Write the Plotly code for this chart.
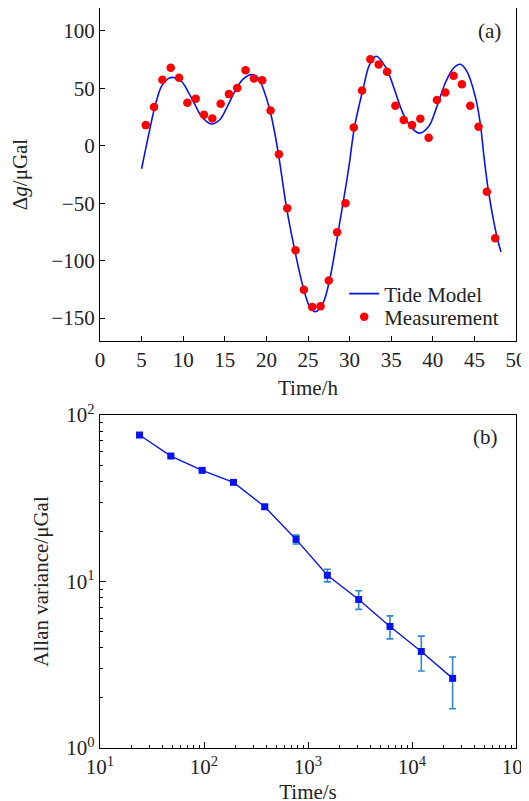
import plotly.graph_objects as go

# ---------- Panel (a): tide model vs measurement ----------
model_t = [5.0, 5.8, 6.6, 7.4, 8.2, 8.8, 9.8, 10.6, 11.4, 12.2, 13.4, 14.4, 15.4, 16.2,
           17.2, 18.2, 19.0, 19.8, 20.6, 21.4, 22.4, 23.4, 24.4, 25.2, 25.9, 26.8, 27.6,
           28.6, 29.6, 30.0, 30.6, 31.6, 32.4, 33.2, 34.4, 35.4, 36.4, 37.5, 38.4, 39.5,
           40.5, 41.5, 42.5, 43.3, 44.1, 45.1, 45.7, 46.15, 46.7, 47.7, 48.2]
model_g = [-20, 8, 34, 52, 58.5, 59.5, 56, 47, 36, 25.5, 19, 22.7, 35.7, 47.3,
           58, 62, 59, 46, 25.5, -5, -53, -90.7, -122.7, -140, -144.5, -137, -116.8,
           -76, -33, -14, 16.8, 48.8, 70.6, 78, 67.7, 48.8, 28.5, 15.4, 11, 16.8,
           34.3, 54.7, 67.7, 71, 64.8, 43, 19.8, -9.3, -40, -79, -92.5]

meas_t = [5.5, 6.5, 7.5, 8.5, 9.5, 10.5, 11.5, 12.5, 13.5, 14.5, 15.5, 16.5, 17.5, 18.5,
          19.5, 20.5, 21.5, 22.5, 23.5, 24.5, 25.5, 26.5, 27.5, 28.5, 29.5, 30.5, 31.5,
          32.5, 33.5, 34.5, 35.5, 36.5, 37.5, 38.5, 39.5, 40.5, 41.5, 42.5, 43.5, 44.5,
          45.5, 46.5, 47.5]
meas_g = [18, 33.7, 57.5, 68, 59.3, 37.5, 41, 27, 23.8, 36.6, 45, 50.3, 65.7, 58.7,
          57, 30.8, -7.3, -54.3, -91, -125.3, -140.4, -139.8, -117.4, -75.3, -50, 16,
          48.2, 75.3, 70.9, 64.5, 34.9, 22.4, 18, 23.5, 7, 39.8, 46.5, 61, 53.5, 34.9,
          16.6, -40, -80.5]

# ---------- Panel (b): Allan deviation ----------
tau = [24, 48, 96, 192, 384, 768, 1536, 3072, 6144, 12288, 24576]
allan = [75.8, 56.7, 46.5, 39.4, 28.1, 17.9, 10.9, 7.8, 5.37, 3.8, 2.62]
allan_err = [1.0, 0.8, 0.6, 0.6, 0.8, 1.1, 0.95, 1.0, 0.85, 0.9, 0.9]

FONT = "Liberation Serif"
FS = 21
TXT = "#222"
BLUE = "#0a14f0"
RED = "#ff0000"

fig = go.Figure()

fig.add_trace(go.Scatter(x=model_t, y=model_g, mode="lines", name="Tide Model",
                         line=dict(color=BLUE, width=1.6, shape="spline", smoothing=1.0),
                         xaxis="x", yaxis="y", legend="legend"))
fig.add_trace(go.Scatter(x=meas_t, y=meas_g, mode="markers", name="Measurement",
                         marker=dict(color=RED, size=8.5, line=dict(width=0)),
                         xaxis="x", yaxis="y", legend="legend2"))

fig.add_trace(go.Scatter(x=tau, y=allan, mode="lines+markers", showlegend=False,
                         line=dict(color=BLUE, width=1.4),
                         marker=dict(symbol="square", size=7, color=BLUE),
                         error_y=dict(type="data", array=allan_err, visible=True,
                                      color="#2f86c8", thickness=1.6, width=3.5),
                         xaxis="x2", yaxis="y2"))

# minor tick positions for log axes
minor_x = [k * 10 ** d for d in range(1, 5) for k in range(2, 10)]
minor_y = [k * 10 ** d for d in range(0, 2) for k in range(2, 10)]

axis_common = dict(showline=True, linecolor="black", linewidth=1.3, mirror=True,
                   ticks="inside", tickcolor="black", tickwidth=1.1, showgrid=False,
                   zeroline=False, automargin=False,
                   tickfont=dict(family=FONT, size=FS, color=TXT))

legend_common = dict(xanchor="left", yanchor="middle", bgcolor="rgba(0,0,0,0)",
                     font=dict(family=FONT, size=FS, color=TXT), itemwidth=30)

fig.update_layout(
    width=529, height=801,
    margin=dict(l=92, r=21, t=0, b=61),
    paper_bgcolor="white", plot_bgcolor="white",
    font=dict(family=FONT, size=FS, color=TXT),
    xaxis=dict(domain=[0, 1], anchor="y", range=[0, 50], tickmode="array",
               tickvals=list(range(0, 51, 5)), ticklen=5,
               title=dict(text="Time/h", font=dict(family=FONT, size=FS), standoff=8),
               **axis_common),
    yaxis=dict(domain=[0.55, 1], anchor="x", range=[-170, 120], tickmode="array",
               tickvals=[-150, -100, -50, 0, 50, 100], ticklen=5,
               title=dict(text="Δ<i>g</i>/μGal", font=dict(family=FONT, size=FS), standoff=21),
               **axis_common),
    xaxis2=dict(domain=[0, 1], anchor="y2", type="log", range=[1, 5], tickmode="array",
                tickvals=[10, 100, 1000, 10000, 100000],
                ticktext=["10<sup>1</sup>", "10<sup>2</sup>", "10<sup>3</sup>",
                          "10<sup>4</sup>", "10<sup>5</sup>"], ticklen=6,
                minor=dict(tickmode="array", tickvals=minor_x, ticks="inside", ticklen=3,
                           tickcolor="black", tickwidth=1),
                title=dict(text="Time/s", font=dict(family=FONT, size=FS), standoff=5),
                **axis_common),
    yaxis2=dict(domain=[0, 0.45], anchor="x2", type="log", range=[0, 2], tickmode="array",
                tickvals=[1, 10, 100],
                ticktext=["10<sup>0</sup>", "10<sup>1</sup>", "10<sup>2</sup>"], ticklen=6,
                minor=dict(tickmode="array", tickvals=minor_y, ticks="inside", ticklen=3,
                           tickcolor="black", tickwidth=1),
                title=dict(text="Allan variance/μGal", font=dict(family=FONT, size=FS), standoff=11),
                **axis_common),
    legend=dict(x=0.587, y=0.6135, **legend_common),
    legend2=dict(x=0.587, y=0.5824, **legend_common),
    annotations=[
        dict(text="(a)", xref="x domain", yref="y domain", x=0.969, y=0.931,
             xanchor="right", yanchor="middle", showarrow=False,
             font=dict(family=FONT, size=FS, color=TXT)),
        dict(text="(b)", xref="x2 domain", yref="y2 domain", x=0.9615, y=0.934,
             xanchor="right", yanchor="middle", showarrow=False,
             font=dict(family=FONT, size=FS, color=TXT)),
    ],
)

fig.write_html("out.html")
